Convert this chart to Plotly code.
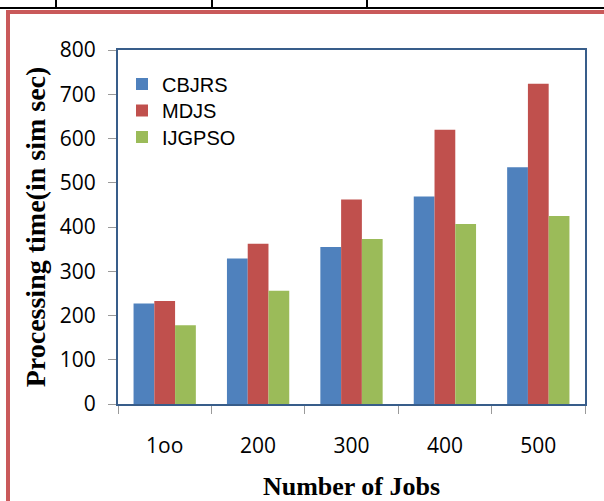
import plotly.graph_objects as go

categories = ["1oo", "200", "300", "400", "500"]
cbjrs = [227, 329, 355, 469, 535]
mdjs = [233, 362, 462, 620, 724]
ijgpso = [178, 256, 373, 407, 425]
series_names = ["CBJRS", "MDJS", "IJGPSO"]
colors = ["#4F81BD", "#C0504D", "#9BBB59"]

W, H = 604, 501
L, R, T, B = 118, 19, 50, 97
pw, ph = W - L - R, H - T - B

def px(x):
    return (x - L) / pw

def py(y):
    return (H - B - y) / ph

legend_ids = ["legend", "legend2", "legend3"]
legend_centers = [84, 110.5, 137]

fig = go.Figure()
for name, vals, c, lid in zip(series_names, [cbjrs, mdjs, ijgpso], colors, legend_ids):
    fig.add_trace(go.Bar(x=categories, y=vals, name=name, legend=lid,
                         marker=dict(color=c, line=dict(width=0))))

shapes = []
shapes.append(dict(type="line", xref="paper", yref="paper", x0=px(0), x1=px(604), y0=py(8), y1=py(8),
                   line=dict(color="black", width=2)))
for xv in [56, 212, 367]:
    shapes.append(dict(type="line", xref="paper", yref="paper", x0=px(xv), x1=px(xv), y0=py(0), y1=py(8),
                       line=dict(color="black", width=2)))
shapes.append(dict(type="line", xref="paper", yref="paper", x0=px(6), x1=px(606), y0=py(12), y1=py(12),
                   line=dict(color="#C9595A", width=4)))
shapes.append(dict(type="line", xref="paper", yref="paper", x0=px(8), x1=px(8), y0=py(10), y1=py(503),
                   line=dict(color="#C9595A", width=4)))

legend_font = dict(family="Liberation Sans", size=20, color="black")
legend_common = dict(xanchor="left", yanchor="middle", font=legend_font, bgcolor="rgba(0,0,0,0)")

fig.update_layout(
    width=W, height=H,
    margin=dict(l=L, r=R, t=T, b=B),
    paper_bgcolor="white", plot_bgcolor="white",
    barmode="group", bargap=0.333, bargroupgap=0,
    font=dict(family="Open Sans", color="black"),
    showlegend=True,
    legend=dict(x=px(122), y=py(legend_centers[0]), **legend_common),
    legend2=dict(x=px(122), y=py(legend_centers[1]), **legend_common),
    legend3=dict(x=px(122), y=py(legend_centers[2]), **legend_common),
    shapes=shapes,
    xaxis=dict(
        type="category", automargin=False,
        showline=True, linecolor="#385D8A", linewidth=2, mirror=True,
        ticks="outside", tickson="boundaries", ticklen=8, tickcolor="#9A9A9A", tickwidth=1,
        tickfont=dict(family="Open Sans", size=21, color="black"),
        ticklabelstandoff=22,
        showgrid=False,
        title=dict(text="<b>Number of Jobs</b>", font=dict(family="Liberation Serif", size=26, color="black"),
                   standoff=20),
    ),
    yaxis=dict(
        range=[0, 800], dtick=100, automargin=False,
        showline=True, linecolor="#385D8A", linewidth=2, mirror=True,
        ticks="outside", ticklen=8, tickcolor="#9A9A9A", tickwidth=1,
        tickfont=dict(family="Open Sans", size=21, color="black"),
        ticklabelstandoff=8,
        showgrid=False, zeroline=False,
        title=dict(text="<b>Processing time(in sim sec)</b>", font=dict(family="Liberation Serif", size=28, color="black"),
                   standoff=6),
    ),
)

fig.write_html("out.html", config={"displayModeBar": False},
               post_script="document.body.style.margin='0';")
